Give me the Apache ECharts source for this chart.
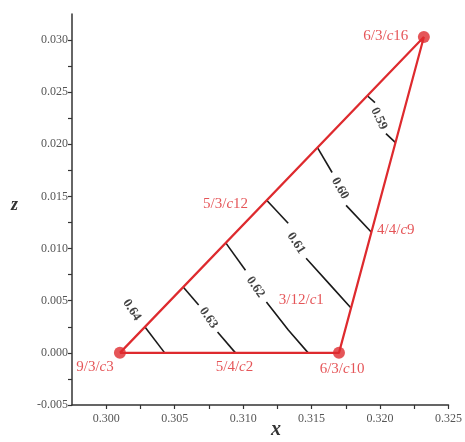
<!DOCTYPE html>
<html>
<head>
<meta charset="utf-8">
<script src="https://cdn.jsdelivr.net/npm/echarts@6/dist/echarts.min.js"></script>
<style>html,body{margin:0;padding:0;background:#fff;}#c{width:465px;height:442px;}</style>
</head>
<body>
<div id="c"></div>
<script>
// ---- data ----
const xTickValues = [0.300, 0.305, 0.310, 0.315, 0.320, 0.325];
const zTickValues = [-0.005, 0.000, 0.005, 0.010, 0.015, 0.020, 0.025, 0.030];

const vertexNames = ['9/3/c3', '6/3/c10', '6/3/c16'];
const vertexX = [0.301, 0.317, 0.3232];
const vertexZ = [0.000, 0.000, 0.0303];

const edgeNames = ['5/4/c2', '4/4/c9', '5/3/c12', '3/12/c1'];
const edgeLabelX = [0.30937, 0.32115, 0.30872, 0.31425];
const edgeLabelZ = [-0.00134, 0.01176, 0.01424, 0.00507];
const vertexLabelX = [0.29918, 0.31723, 0.32042];
const vertexLabelZ = [-0.00134, -0.00153, 0.03040];

const contourLevels = ['0.64', '0.63', '0.62', '0.61', '0.60', '0.59'];
const contourLabelX = [0.30187, 0.30747, 0.31090, 0.31387, 0.31708, 0.31992];
const contourLabelZ = [0.00411, 0.00335, 0.00631, 0.01052, 0.01577, 0.02247];
const contour064a = [[0.30283, 0.00249], [0.30427, 0.000]];
const contour064b = [];
const contour063a = [[0.30562, 0.00631], [0.30675, 0.00459]];
const contour063b = [[0.30813, 0.00201], [0.30944, 0.000]];
const contour062a = [[0.30873, 0.01055], [0.31017, 0.00793]];
const contour062b = [[0.31170, 0.00488], [0.31330, 0.00220], [0.31475, 0.000]];
const contour061a = [[0.31172, 0.01463], [0.31329, 0.01243]];
const contour061b = [[0.31460, 0.00908], [0.31657, 0.00621], [0.31788, 0.00430]];
const contour060a = [[0.31543, 0.01969], [0.31650, 0.01730]];
const contour060b = [[0.31752, 0.01415], [0.31937, 0.01157]];
const contour059a = [[0.31907, 0.02466], [0.31963, 0.02400]];
const contour059b = [[0.32043, 0.02103], [0.32113, 0.02017]];

// ---- styles ----
const RED = '#de2a2e';
const SERIF = '"Liberation Serif", "DejaVu Serif", serif';
const labelRotate = [-57, -55, -55, -57, -60, -65];

const segs = [contour064a, contour064b, contour063a, contour063b, contour062a, contour062b,
              contour061a, contour061b, contour060a, contour060b, contour059a, contour059b];

function richName(name) {
  const i = name.lastIndexOf('c');
  return '{n|' + name.slice(0, i) + '}{i|c}{n|' + name.slice(i + 1) + '}';
}
const redRich = {
  n: { fontFamily: SERIF, fontSize: 15, color: RED },
  i: { fontFamily: SERIF, fontSize: 15, color: RED, fontStyle: 'italic' }
};

const series = [];
segs.forEach(s => {
  if (!s.length) return;
  series.push({
    type: 'line', data: s, symbol: 'none', silent: true,
    lineStyle: { color: '#1a1a1a', width: 1.6 }, z: 2
  });
});
// triangle
const tri = vertexX.map((x, i) => [x, vertexZ[i]]);
tri.push(tri[0]);
series.push({
  type: 'line', data: tri, symbol: 'none', silent: true,
  lineStyle: { color: RED, width: 2.2 }, z: 3
});
series.push({
  type: 'scatter', data: vertexX.map((x, i) => [x, vertexZ[i]]),
  symbolSize: 12, itemStyle: { color: RED }, z: 4, silent: true
});
// red labels
const redLabels = vertexNames.map((n, i) => ({ value: [vertexLabelX[i], vertexLabelZ[i]], name: n }))
  .concat(edgeNames.map((n, i) => ({ value: [edgeLabelX[i], edgeLabelZ[i]], name: n })));
series.push({
  type: 'scatter', data: redLabels, symbolSize: 1, silent: true, z: 5,
  itemStyle: { color: 'transparent' },
  label: { show: true, position: 'inside', formatter: p => richName(p.name), rich: redRich }
});
// contour labels
series.push({
  type: 'scatter', silent: true, z: 5, symbolSize: 1,
  itemStyle: { color: 'transparent' },
  data: contourLevels.map((l, i) => ({
    value: [contourLabelX[i], contourLabelZ[i]], name: l,
    label: { rotate: labelRotate[i] }
  })),
  label: {
    show: true, position: 'inside', formatter: p => p.name,
    fontFamily: SERIF, fontSize: 13, color: '#111', fontWeight: 'bold'
  }
});

const isMajor = v => Math.abs(v / 0.005 - Math.round(v / 0.005)) < 1e-6;
const axisCommon = {
  type: 'value',
  interval: 0.0025,
  splitLine: { show: false },
  axisLine: { show: true, onZero: false, lineStyle: { color: '#333', width: 1.5 } },
  axisTick: { show: true, length: 4, lineStyle: { color: '#333', width: 1.2 } },
  axisLabel: {
    fontFamily: SERIF, fontSize: 12, color: '#555', margin: 4,
    formatter: v => isMajor(v) ? v.toFixed(3) : ''
  }
};

const option = {
  animation: false,
  backgroundColor: '#fff',
  grid: { left: 72, right: 14, top: 14, bottom: 37, containLabel: false },
  xAxis: Object.assign({}, axisCommon, { min: 0.2975, max: 0.325,
    axisLabel: Object.assign({}, axisCommon.axisLabel, { margin: 8, showMinLabel: false }) }),
  yAxis: Object.assign({}, axisCommon, { min: -0.005, max: 0.0325,
    axisLabel: Object.assign({}, axisCommon.axisLabel, { showMaxLabel: false }) }),
  graphic: [
    { type: 'text', left: 11, top: 196, style: { text: 'z', font: 'italic bold 18px ' + SERIF, fill: '#333' } },
    { type: 'text', left: 271, top: 420, style: { text: 'x', font: 'italic bold 20px ' + SERIF, fill: '#333' } }
  ],
  series: series
};

const chart = echarts.init(document.getElementById('c'), null, { renderer: 'canvas' });
chart.setOption(option);
</script>
</body>
</html>
